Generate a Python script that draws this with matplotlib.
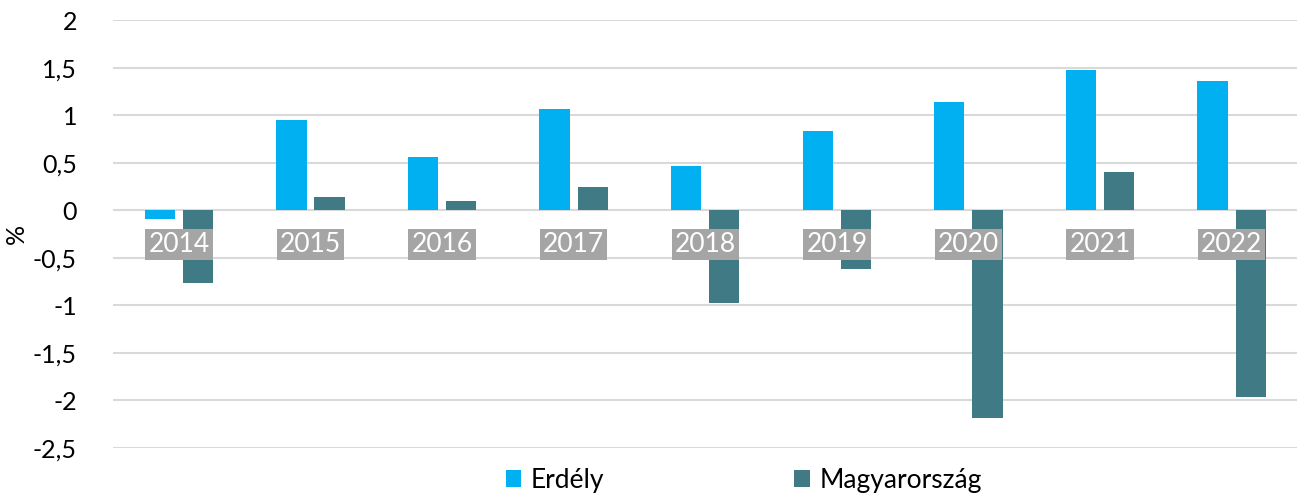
import matplotlib.pyplot as plt
import numpy as np

years = ["2014", "2015", "2016", "2017", "2018", "2019", "2020", "2021", "2022"]
erdely = [-0.09, 0.95, 0.56, 1.07, 0.47, 0.84, 1.14, 1.48, 1.36]
magyarorszag = [-0.76, 0.14, 0.10, 0.25, -0.97, -0.62, -2.18, 0.41, -1.96]
yticks = [2, 1.5, 1, 0.5, 0, -0.5, -1, -1.5, -2, -2.5]

plt.rcParams['font.family'] = ['Lato', 'DejaVu Sans']

fig = plt.figure(figsize=(13, 4.96), dpi=100)
ax = fig.add_axes([0.087, 0.0968, 0.911, 0.8619])

xpos = np.arange(len(years))
ax.bar(xpos - 0.145, erdely, width=0.23, color="#00b0f0", label="Erdély", zorder=2)
ax.bar(xpos + 0.145, magyarorszag, width=0.23, color="#407b85", label="Magyarország", zorder=2)

# year labels sit in grey boxes just below zero
for x, year in zip(xpos, years):
    ax.text(x, -0.355, year, ha="center", va="center", color="white", fontsize=19,
            zorder=4, bbox=dict(boxstyle="square,pad=0.12", fc="#a5a5a5", ec="none"))

ax.set_xlim(-0.5, len(years) - 0.5)
ax.set_ylim(-2.5, 2)
ax.set_yticks(yticks)
ax.set_yticklabels([str(t).replace(".", ",") for t in yticks], fontsize=18)
ax.set_xticks([])
ax.tick_params(axis="y", length=0, pad=26)
for side in ax.spines:
    ax.spines[side].set_visible(False)
ax.grid(axis="y", color="#d9d9d9", linewidth=1.5, zorder=0)
ax.set_axisbelow(True)
ax.set_ylabel("%", fontsize=18)
ax.yaxis.set_label_coords(-0.072, 0.5)

fig.legend(loc="center", bbox_to_anchor=(0.572, 0.032), ncol=2, frameon=False,
           fontsize=19, handlelength=0.6, handleheight=0.6, handletextpad=0.35,
           columnspacing=7.2)

fig.savefig("out.png", dpi=100)
